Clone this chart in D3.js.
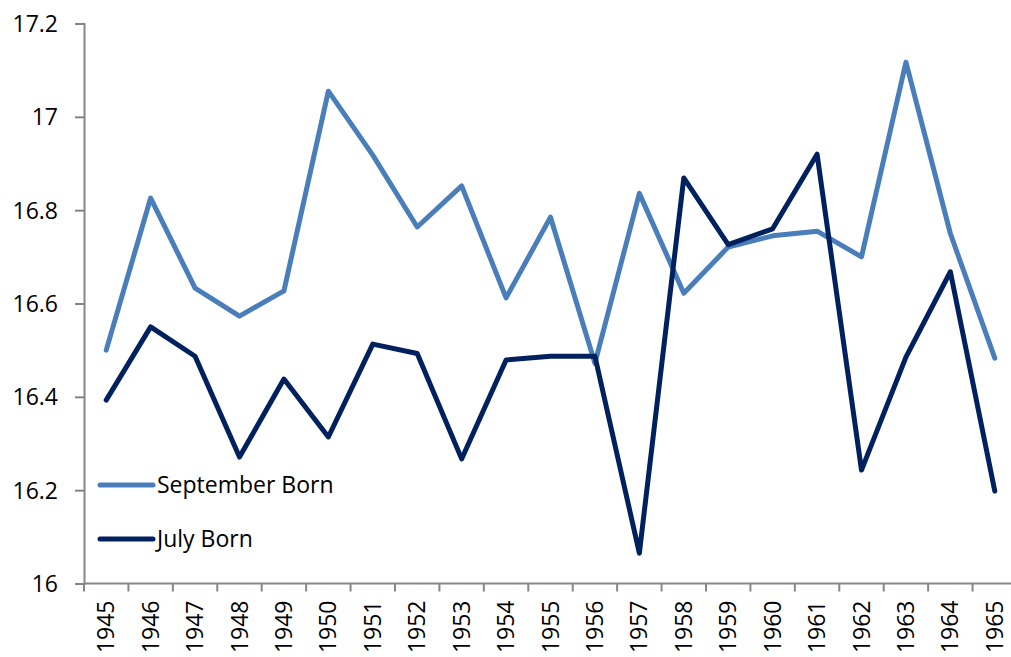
<!DOCTYPE html>
<html>
<head>
<meta charset="utf-8">
<title>September vs July born</title>
<script src="https://cdn.jsdelivr.net/npm/d3@7"></script>
<style>
  body { margin: 0; background: #fff; }
  svg text { font-family: "Open Sans", sans-serif; fill: #000; }
</style>
</head>
<body>
<div id="chart"></div>
<script>
var years = ["1945","1946","1947","1948","1949","1950","1951","1952","1953","1954","1955",
             "1956","1957","1958","1959","1960","1961","1962","1963","1964","1965"];

var septemberBorn = [16.50, 16.826, 16.633, 16.573, 16.627, 17.055, 16.918, 16.764, 16.852, 16.612, 16.785,
                     16.472, 16.836, 16.622, 16.721, 16.745, 16.755, 16.700, 17.117, 16.750, 16.483];

var julyBorn = [16.393, 16.550, 16.487, 16.271, 16.438, 16.314, 16.513, 16.493, 16.267, 16.479, 16.487,
                16.487, 16.065, 16.869, 16.726, 16.760, 16.920, 16.243, 16.485, 16.668, 16.198];

var yTicks = [16, 16.2, 16.4, 16.6, 16.8, 17, 17.2];

var series = [
  { name: "September Born", values: septemberBorn, color: "#4a7ebb" },
  { name: "July Born", values: julyBorn, color: "#00215e" }
];

var W = 1011, H = 657;
var plot = { left: 84, right: 1017, top: 23.5, bottom: 583.5 };
var axisColor = "#868686";
var fontSize = "23px";

var svg = d3.select("#chart").append("svg")
  .attr("width", W)
  .attr("height", H);

var x = d3.scaleBand()
  .domain(years)
  .range([plot.left, plot.right]);

var y = d3.scaleLinear()
  .domain([16, 17.2])
  .range([plot.bottom, plot.top]);

// y axis
var yAxis = svg.append("g")
  .attr("transform", "translate(" + plot.left + ",0)")
  .call(d3.axisLeft(y).tickValues(yTicks).tickSize(9).tickPadding(17)
    .tickFormat(function(d) { return d3.format("~g")(d); }));
yAxis.select(".domain").attr("stroke", axisColor).attr("stroke-width", 2);
yAxis.selectAll(".tick line").attr("stroke", axisColor).attr("stroke-width", 2);
yAxis.selectAll(".tick text").style("font-size", fontSize).attr("dy", "0.35em");

// x axis: ticks on band edges
var xAxis = svg.append("g")
  .attr("transform", "translate(0," + plot.bottom + ")");
xAxis.append("line")
  .attr("x1", plot.left).attr("x2", plot.right)
  .attr("stroke", axisColor).attr("stroke-width", 2);
xAxis.selectAll(".xtick")
  .data(years)
  .enter().append("line")
  .attr("class", "xtick")
  .attr("x1", function(d) { return x(d); })
  .attr("x2", function(d) { return x(d); })
  .attr("y1", 0).attr("y2", 8)
  .attr("stroke", axisColor).attr("stroke-width", 2);
xAxis.selectAll(".xlabel")
  .data(years)
  .enter().append("text")
  .attr("class", "xlabel")
  .attr("transform", function(d) {
    return "translate(" + (x(d) + x.bandwidth() / 2) + ",17) rotate(-90)";
  })
  .attr("text-anchor", "end")
  .attr("dy", "0.35em")
  .style("font-size", fontSize)
  .text(function(d) { return d; });

// lines
var line = d3.line()
  .x(function(d, i) { return x(years[i]) + x.bandwidth() / 2; })
  .y(function(d) { return y(d); });

svg.selectAll(".series")
  .data(series)
  .enter().append("path")
  .attr("class", "series")
  .attr("d", function(d) { return line(d.values); })
  .attr("fill", "none")
  .attr("stroke", function(d) { return d.color; })
  .attr("stroke-width", 5)
  .attr("stroke-linejoin", "round")
  .attr("stroke-linecap", "round");

// legend
var legend = svg.selectAll(".legend")
  .data(series)
  .enter().append("g")
  .attr("class", "legend")
  .attr("transform", function(d, i) { return "translate(100," + (485 + i * 54) + ")"; });
legend.append("line")
  .attr("x1", 0).attr("x2", 53)
  .attr("stroke", function(d) { return d.color; })
  .attr("stroke-width", 5)
  .attr("stroke-linecap", "round");
legend.append("text")
  .attr("x", 57)
  .attr("dy", "0.35em")
  .style("font-size", fontSize)
  .text(function(d) { return d.name; });
</script>
</body>
</html>
